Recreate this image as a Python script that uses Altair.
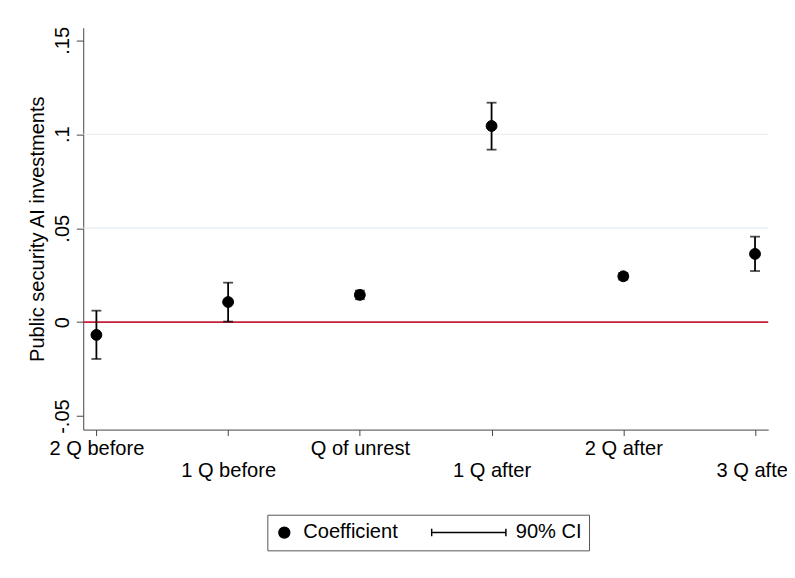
import altair as alt
import pandas as pd

categories = ["2 Q before", "1 Q before", "Q of unrest", "1 Q after", "2 Q after", "3 Q after"]
positions = [0, 1, 2, 3, 4, 5]
coef = [-0.0068, 0.0107, 0.0145, 0.1044, 0.0244, 0.0363]
ci_low = [-0.0196, 0.0003, 0.0122, 0.0918, 0.0226, 0.0272]
ci_high = [0.0061, 0.0210, 0.0168, 0.1168, 0.0262, 0.0455]
legend_labels = ["Coefficient", "90% CI"]
grid_values = [0.05, 0.1]
y_ticks = [-0.05, 0, 0.05, 0.1, 0.15]

df = pd.DataFrame({
    "pos": positions,
    "label": categories,
    "coef": coef,
    "lo": ci_low,
    "hi": ci_high,
    "kind": ["Coefficient"] * len(categories),
})
grid_df = pd.DataFrame({"g": grid_values})
zero_df = pd.DataFrame({"z": [0]})

FONT = "Liberation Sans"
FS = 20.3

label_expr = "[" + ",".join("'" + c + "'" for c in categories) + "][datum.value]"

x_scale = alt.Scale(domain=[-0.1, 5.1], nice=False, zero=False)
y_scale = alt.Scale(domain=[-0.0572, 0.1567], nice=False, zero=False)

x_enc = alt.X(
    "pos:Q",
    scale=x_scale,
    axis=alt.Axis(
        values=positions,
        labelExpr=label_expr,
        title=None,
        grid=False,
        domainColor="#444",
        tickColor="#444",
        tickSize=6,
        labelFont=FONT,
        labelFontSize=FS,
        labelColor="black",
        labelPadding=alt.condition("datum.value % 2 == 1", alt.value(25), alt.value(3)),
        labelAngle=0,
        labelAlign="center",
        labelBaseline="top",
        labelOverlap=False,
        labelFlush=False,
    ),
)

y_axis = alt.Axis(
    values=y_ticks,
    labelExpr="datum.value == 0 ? '0' : replace(replace(format(datum.value, '~g'), '0.', '.'), '\u2212', '-')",
    title="Public security AI investments",
    titleFont=FONT,
    titleFontSize=FS,
    titleFontWeight="normal",
    titleColor="black",
    titlePadding=5,
    grid=False,
    domainColor="#444",
    tickColor="#444",
    tickSize=7,
    labelFont=FONT,
    labelFontSize=FS,
    labelColor="black",
    labelAngle=270,
    labelAlign="center",
    labelBaseline="bottom",
    labelPadding=4,
    labelFlush=False,
    labelOverlap=False,
)

grid = alt.Chart(grid_df).mark_rule(color="#e3ebef", strokeWidth=1.2).encode(
    y=alt.Y("g:Q", scale=y_scale, axis=y_axis)
)

zero = alt.Chart(zero_df).mark_rule(color="#c41e3a", strokeWidth=1.6).encode(
    y=alt.Y("z:Q", scale=y_scale)
)

bars = alt.Chart(df).mark_rule(color="black", strokeWidth=1.8).encode(
    x=x_enc,
    y=alt.Y("lo:Q", scale=y_scale),
    y2="hi:Q",
)

caps_lo = alt.Chart(df).mark_tick(color="black", orient="horizontal", size=10, thickness=1.8).encode(
    x=alt.X("pos:Q", scale=x_scale),
    y=alt.Y("lo:Q", scale=y_scale),
)
caps_hi = alt.Chart(df).mark_tick(color="black", orient="horizontal", size=10, thickness=1.8).encode(
    x=alt.X("pos:Q", scale=x_scale),
    y=alt.Y("hi:Q", scale=y_scale),
)

ci_path = "M-1,-0.1L-1,0.1M-1,0L1,0M1,-0.1L1,0.1"

legend_cfg = dict(
    title=None,
    orient="none",
    legendX=186,
    legendY=492,
    direction="horizontal",
    padding=7,
    strokeColor="#555",
    labelFont=FONT,
    labelFontSize=FS,
    labelColor="black",
    labelOffset=9,
    columnPadding=33,
    clipHeight=22,
    symbolStrokeWidth=1.5,
    symbolOpacity=1,
)

points = alt.Chart(df).mark_point(
    filled=False, color="black", fill="black", fillOpacity=1, stroke="black", strokeWidth=1, opacity=1
).encode(
    x=alt.X("pos:Q", scale=x_scale),
    y=alt.Y("coef:Q", scale=y_scale),
    shape=alt.Shape(
        "kind:N",
        scale=alt.Scale(domain=legend_labels, range=["circle", ci_path]),
        legend=alt.Legend(**legend_cfg),
    ),
    size=alt.Size(
        "kind:N",
        scale=alt.Scale(domain=legend_labels, range=[120, 5625]),
        legend=alt.Legend(**legend_cfg),
    ),
)

chart = (
    alt.layer(grid, zero, bars, caps_lo, caps_hi, points)
    .properties(
        width=692,
        height=406,
        autosize=alt.AutoSizeParams(type="none"),
        padding={"left": 76, "top": 17, "right": 19, "bottom": 147},
        background="white",
    )
    .configure_view(stroke=None)
)

chart.save("out.html", embed_options={"renderer": "svg", "actions": False})
